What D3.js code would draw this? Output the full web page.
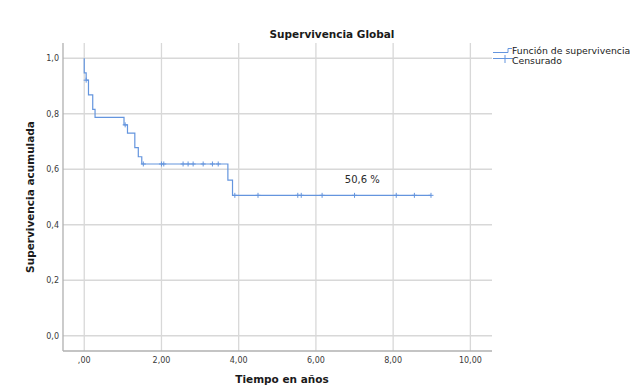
<!DOCTYPE html>
<html>
<head>
<meta charset="utf-8">
<script src="https://cdn.jsdelivr.net/npm/d3@7"></script>
<style>
  body { margin: 0; background: #fff; }
  text { font-family: "DejaVu Sans", sans-serif; }
</style>
</head>
<body>
<svg id="chart" width="637" height="387"></svg>
<script>
// Kaplan-Meier steps
const stepTimes = [0, 0.00, 0.05, 0.11, 0.22, 0.28, 1.03, 1.12, 1.31, 1.40, 1.49, 3.72, 3.84];
const stepSurv  = [1.0, 0.947, 0.921, 0.868, 0.816, 0.787, 0.760, 0.730, 0.678, 0.645, 0.619, 0.561, 0.506];
const lastTime = 8.98;

// censored observations
const censorTimes = [0.05, 1.06, 1.53, 2.00, 2.06, 2.56, 2.69, 2.82, 3.08, 3.32, 3.47,
                     3.90, 4.50, 5.53, 5.62, 6.16, 7.00, 8.08, 8.55, 8.98];

const xTicks = [0, 2, 4, 6, 8, 10];
const yTicks = [0, 0.2, 0.4, 0.6, 0.8, 1.0];

const blue = "#6495de";
const svg = d3.select("#chart");

const x = d3.scaleLinear().domain([-0.55, 10.56]).range([63, 492]);
const y = d3.scaleLinear().domain([-0.055, 1.055]).range([351, 43]);

function survAt(t) {
    let s = 1;
    stepTimes.forEach((st, i) => { if (st <= t) s = stepSurv[i]; });
    return s;
}

// grid
svg.append("g").selectAll("line").data(yTicks).enter().append("line")
    .attr("x1", x.range()[0]).attr("x2", x.range()[1])
    .attr("y1", d => y(d)).attr("y2", d => y(d))
    .attr("stroke", "#d8d8d8").attr("stroke-width", 1.3);
svg.append("g").selectAll("line").data(xTicks).enter().append("line")
    .attr("x1", d => x(d)).attr("x2", d => x(d))
    .attr("y1", y.range()[0]).attr("y2", y.range()[1])
    .attr("stroke", "#d8d8d8").attr("stroke-width", 1.3);

// axes lines
svg.append("line").attr("x1", 63).attr("x2", 63).attr("y1", 43).attr("y2", 351)
    .attr("stroke", "#b0b0b0").attr("stroke-width", 1.3);
svg.append("line").attr("x1", 63).attr("x2", 492).attr("y1", 351).attr("y2", 351)
    .attr("stroke", "#b0b0b0").attr("stroke-width", 1.3);

// tick labels
const fmtX = d => d === 0 ? ",00" : d3.format(".2f")(d).replace(".", ",");
const fmtY = d => d3.format(".1f")(d).replace(".", ",");
svg.append("g").selectAll("text").data(yTicks).enter().append("text")
    .attr("x", 59).attr("y", d => y(d) + 3)
    .attr("text-anchor", "end").attr("font-size", 8).attr("fill", "#3a3a3a")
    .text(fmtY);
svg.append("g").selectAll("text").data(xTicks).enter().append("text")
    .attr("x", d => x(d)).attr("y", 363)
    .attr("text-anchor", "middle").attr("font-size", 8).attr("fill", "#3a3a3a")
    .text(fmtX);

// survival step line
const pts = [];
stepTimes.forEach((t, i) => {
    if (i > 0) pts.push([t, stepSurv[i - 1]]);
    pts.push([t, stepSurv[i]]);
});
pts.push([lastTime, stepSurv[stepSurv.length - 1]]);
svg.append("path")
    .datum(pts)
    .attr("fill", "none").attr("stroke", blue).attr("stroke-width", 1.2)
    .attr("d", d3.line().x(d => x(d[0])).y(d => y(d[1])));

// censor marks
svg.append("g").selectAll("path").data(censorTimes).enter().append("path")
    .attr("d", d => {
        const cx = x(d), cy = y(survAt(d));
        return `M${cx - 2.5},${cy}H${cx + 2.5}M${cx},${cy - 2.5}V${cy + 2.5}`;
    })
    .attr("stroke", blue).attr("stroke-width", 1);

// annotation
svg.append("text").attr("x", x(7.2)).attr("y", y(0.506) - 12)
    .attr("text-anchor", "middle").attr("font-size", 10).attr("fill", "#2a2a2a")
    .text("50,6 %");

// titles
svg.append("text").attr("x", 332).attr("y", 38)
    .attr("text-anchor", "middle").attr("font-size", 10.5).attr("font-weight", "bold").attr("fill", "#1a1a1a")
    .text("Supervivencia Global");
svg.append("text").attr("x", 282).attr("y", 383)
    .attr("text-anchor", "middle").attr("font-size", 10.5).attr("font-weight", "bold").attr("fill", "#1a1a1a")
    .text("Tiempo en años");
svg.append("text")
    .attr("transform", `translate(34,${y(0.5)}) rotate(-90)`)
    .attr("text-anchor", "middle").attr("font-size", 10.5).attr("font-weight", "bold").attr("fill", "#1a1a1a")
    .text("Supervivencia acumulada");

// legend
const lg = svg.append("g");
lg.append("path").attr("d", "M493,52.5H508V48.5H512")
    .attr("fill", "none").attr("stroke", blue).attr("stroke-width", 1);
lg.append("path").attr("d", "M493,58.5H513M505,55V63")
    .attr("fill", "none").attr("stroke", blue).attr("stroke-width", 1);
lg.append("text").attr("x", 512).attr("y", 54).attr("font-size", 9.3).attr("fill", "#1a1a1a")
    .text("Función de supervivencia");
lg.append("text").attr("x", 512).attr("y", 64).attr("font-size", 9.3).attr("fill", "#1a1a1a")
    .text("Censurado");
</script>
</body>
</html>
